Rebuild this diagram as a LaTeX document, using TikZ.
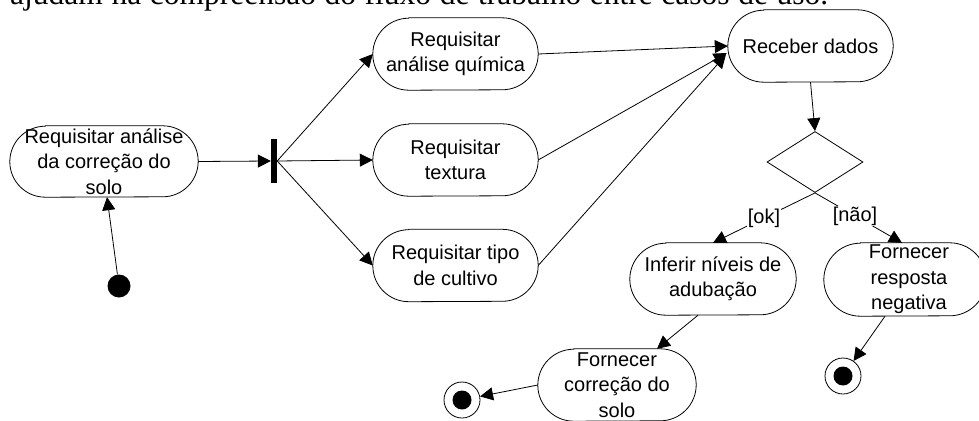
\documentclass[tikz,border=0pt]{standalone}
\usepackage{fontspec}
\usetikzlibrary{arrows.meta,calc,shapes.geometric}
\newfontfamily\diagfont{Liberation Sans}
\newfontfamily\parafont{Liberation Serif}

% \actnode{name}{x}{y}{width}{height}{text}: activity box with half-round ends
\newcommand\actnode[6]{%
  \node[minimum width=#4pt, minimum height=#5pt, inner sep=0pt] (#1) at (#2,#3) {};
  \draw[actline] ([xshift=#5pt/2]#1.north west) -- ([xshift=-#5pt/2]#1.north east)
    arc[start angle=90, end angle=-90, radius=#5pt/2]
    -- ([xshift=#5pt/2]#1.south west)
    arc[start angle=270, end angle=90, radius=#5pt/2] -- cycle;
  \node[acttext] (#1-t) at (#1) {#6};
}

\tikzset{
  actline/.style={draw=black, line width=0.8pt},
  acttext/.style={align=center, inner sep=0pt, font=\diagfont\fontsize{20}{25.5}\selectfont},
  arr/.style={draw=black, line width=0.8pt, -{Triangle[length=13pt,width=13pt]}},
  guard/.style={fill=white, inner sep=1pt, font=\diagfont\fontsize{20}{24}\selectfont},
  finalring/.style={circle, draw=black, line width=0.8pt, minimum size=36pt, inner sep=0pt},
}

\begin{document}
\begin{tikzpicture}[x=1pt,y=1pt]
\useasboundingbox (0,0) rectangle (979,-420);
\clip (0,0) rectangle (979,-420);

% last line of the paragraph above the figure (justified line)
\node[anchor=base west, inner sep=0pt, font=\parafont\fontsize{31.5}{36}\selectfont] (para) at (10,-5)
  {\makebox[818pt][s]{ajudam na compreensão do fluxo de trabalho entre casos de uso.}};

% activities
\actnode{A}{104}{-161.5}{188}{71}{Requisitar análise\\da correção do\\solo}
\actnode{B}{455.5}{-54}{165}{72}{Requisitar\\análise química}
\actnode{C}{455.5}{-160}{165}{72}{Requisitar\\textura}
\actnode{D}{455.5}{-265.5}{165}{72}{Requisitar tipo\\de cultivo}
\actnode{E}{810.5}{-46}{165}{72}{Receber dados}
\actnode{F}{713}{-279}{166}{72}{Inferir níveis de\\adubação}
\actnode{G}{905}{-279.5}{162}{73}{\hspace*{8pt}Fornecer\\\hspace*{8pt}resposta\\\hspace*{8pt}negativa}
\actnode{H}{617}{-385}{158}{72}{Fornecer\\correção do\\solo}

% fork bar and decision
\node[fill=black, minimum width=6pt, minimum height=44pt, inner sep=0pt] (fork) at (274,-161) {};
\node[diamond, draw=black, line width=0.8pt, minimum width=96pt, minimum height=61pt,
      inner sep=0pt, aspect=1.57] (dec) at (815,-162) {};

% initial and final states
\node[circle, fill=black, minimum size=23pt, inner sep=0pt] (init) at (119,-286) {};
\node[finalring] (end1) at (462,-400) {};
\node[circle, fill=black, minimum size=19pt, inner sep=0pt] (end1-dot) at (end1) {};
\node[finalring] (end2) at (843,-376) {};
\node[circle, fill=black, minimum size=19pt, inner sep=0pt] (end2-dot) at (end2) {};

% transitions
\draw[arr] (init) -- ($(A.south)+(3,0)$);
\draw[arr] (A.east) -- (fork.west);
\draw[arr] (fork.east) -- (B.west);
\draw[arr] (fork.east) -- (C.west);
\draw[arr] (fork.east) -- (D.west);
\draw[arr] (B.east) -- (E.west);
\draw[arr] (C.east) -- ($(E.west)+(-1,-7)$);
\draw[arr] (D.east) -- ($(E.west)+(-2,-9)$);
\draw[arr] (E.south) -- (dec.north);
\draw[arr] (dec.south) -- node[guard] (ok) {[ok]} (F.north);
\draw[arr] (dec.south) -- node[guard, pos=0.46] (nao) {[não]} ($(G.north)+(-3,0)$);
\draw[arr] ($(F.south)+(-15,0)$) -- ($(H.north)+(40,0)$);
\draw[arr] (H.west) -- (end1);
\draw[arr] ($(G.south)+(-20,0)$) -- (end2);
\end{tikzpicture}
\end{document}
